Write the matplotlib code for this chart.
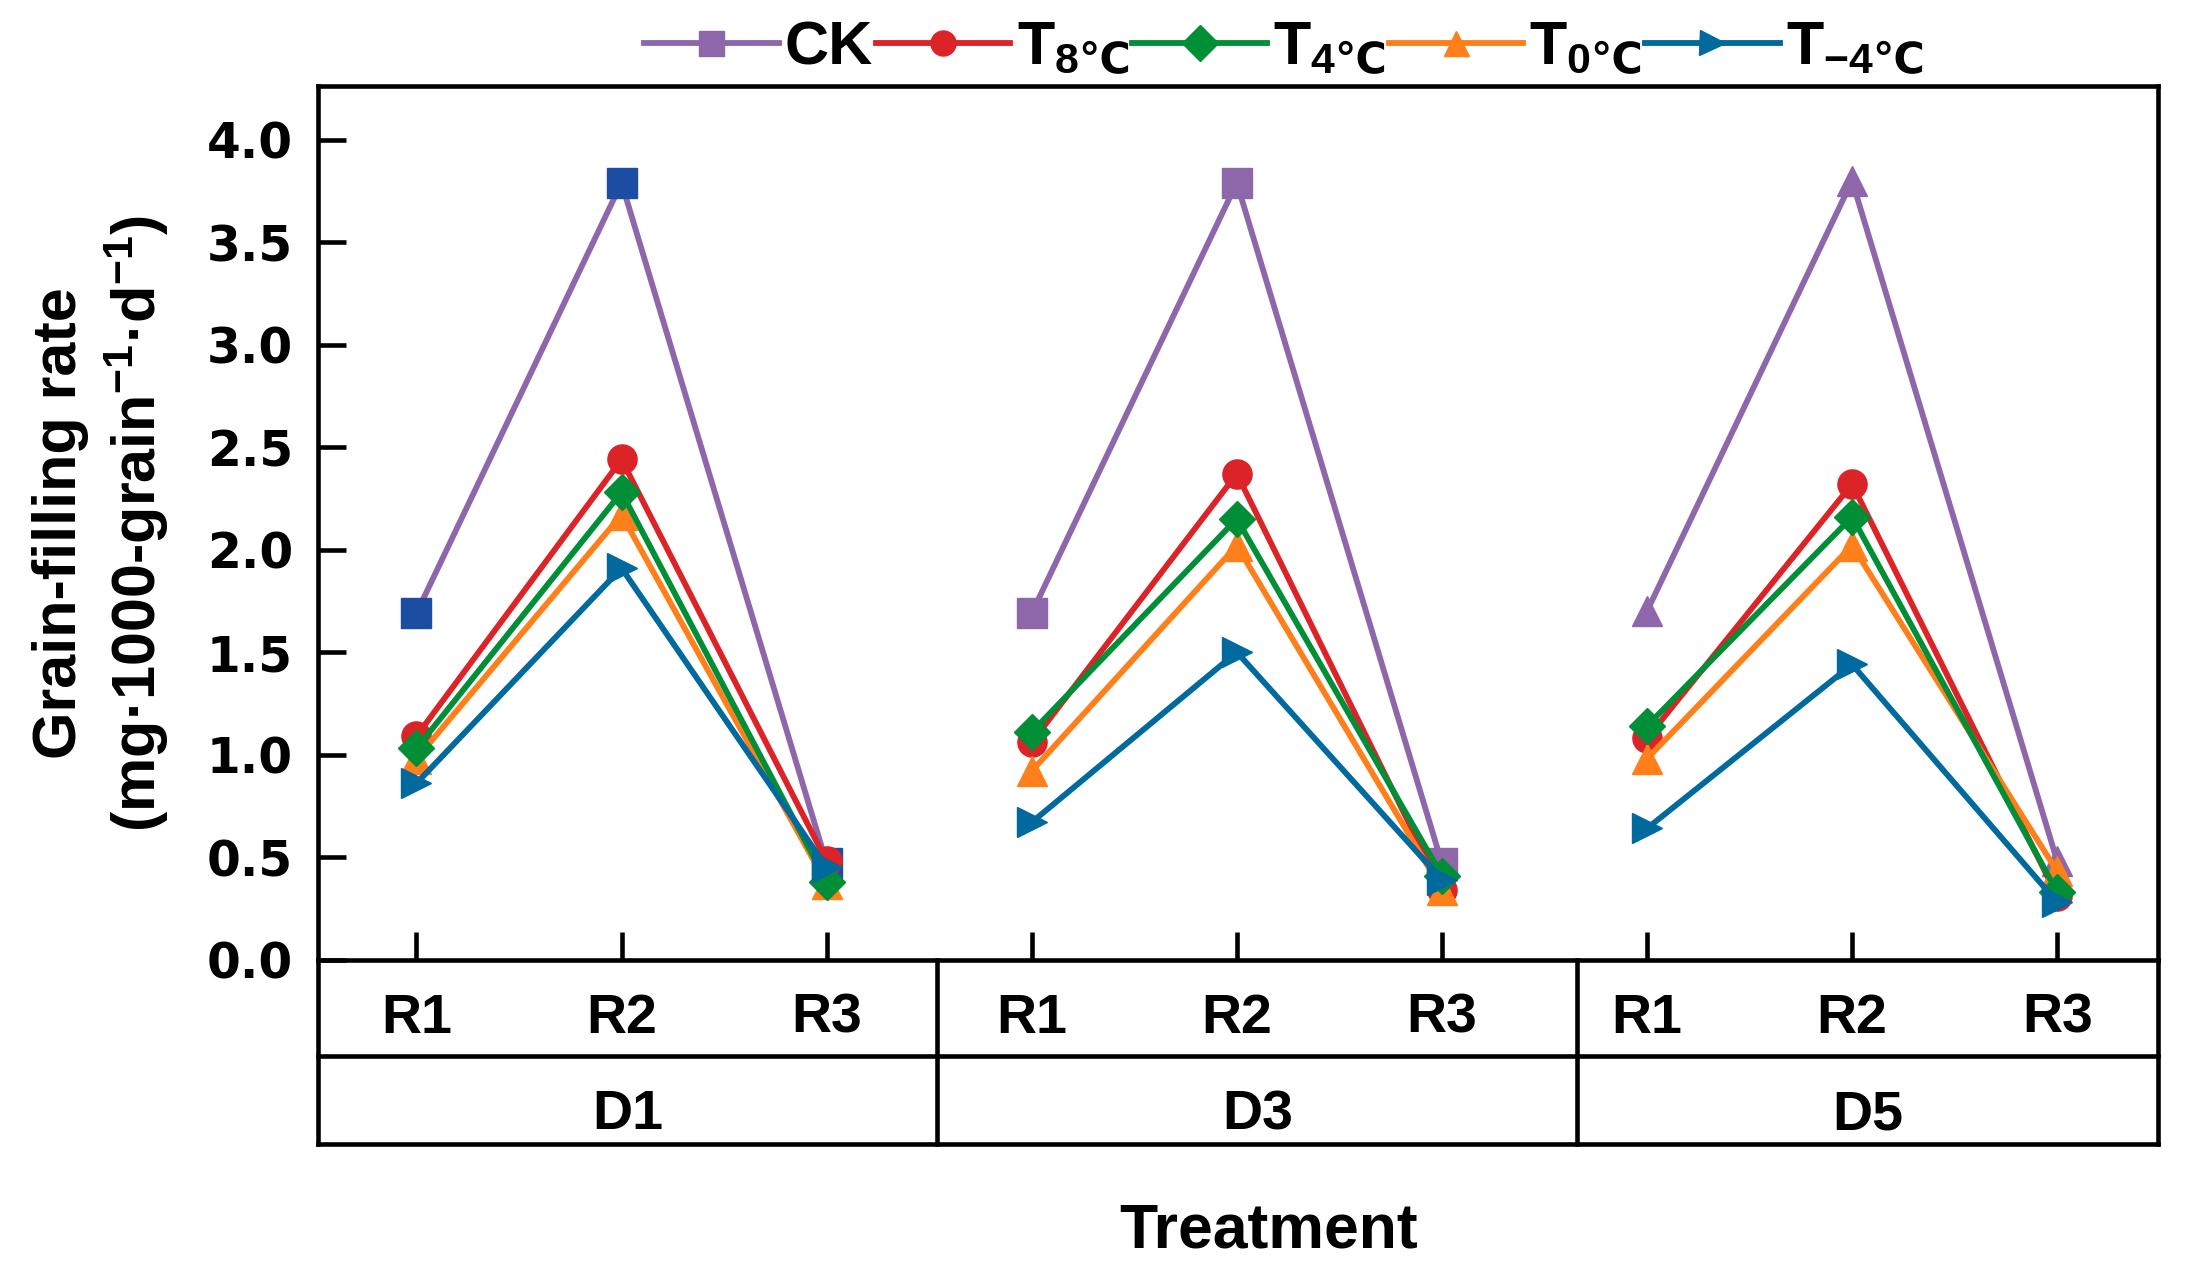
import matplotlib
matplotlib.use('Agg')
import matplotlib.pyplot as plt
from matplotlib.lines import Line2D

plt.rcParams['font.family'] = ['Liberation Sans', 'DejaVu Sans']
plt.rcParams['font.weight'] = 'bold'
plt.rcParams['mathtext.fontset'] = 'custom'
plt.rcParams['mathtext.bf'] = 'Liberation Sans:bold'
plt.rcParams['mathtext.rm'] = 'Noto Sans CJK SC'
plt.rcParams['mathtext.it'] = 'Liberation Sans:bold'

groups = ['D1', 'D3', 'D5']
stages = ['R1', 'R2', 'R3']
series_names = ['CK', 'T8', 'T4', 'T0', 'T-4']
legend_labels = ['CK', r'T$_{\mathbf{8}\mathrm{℃}}$', r'T$_{\mathbf{4}\mathrm{℃}}$',
                 r'T$_{\mathbf{0}\mathrm{℃}}$', r'T$_{\mathbf{-4}\mathrm{℃}}$']

ck = [1.69, 3.79, 0.47, 1.69, 3.79, 0.47, 1.70, 3.80, 0.48]
t8 = [1.09, 2.44, 0.48, 1.06, 2.37, 0.34, 1.08, 2.32, 0.31]
t4 = [1.03, 2.28, 0.38, 1.11, 2.15, 0.41, 1.14, 2.16, 0.33]
t0 = [0.98, 2.17, 0.37, 0.92, 2.02, 0.34, 0.98, 2.02, 0.43]
tm4 = [0.86, 1.91, 0.45, 0.67, 1.50, 0.39, 0.64, 1.44, 0.28]

yticks = [0.0, 0.5, 1.0, 1.5, 2.0, 2.5, 3.0, 3.5, 4.0]

colors = {'CK': '#8e67ab', 'T8': '#dc2327', 'T4': '#008f36',
          'T0': '#ff7f1b', 'T-4': '#00699d'}
markers = {'CK': 's', 'T8': 'o', 'T4': 'D', 'T0': '^', 'T-4': '>'}
# CK markers differ by group in the original figure
ck_markers = ['s', 's', '^']
ck_marker_colors = ['#1b4ea2', '#8e67ab', '#8e67ab']
zorders = {'CK': 2, 'T8': 3, 'T0': 4, 'T4': 5, 'T-4': 6}


def plot_series(ax, name, values):
    """draw one series, each group as its own line"""
    for g in range(len(groups)):
        xs = [3 * g + i for i in range(3)]
        ys = values[3 * g:3 * g + 3]
        marker = markers[name]
        mcolor = colors[name]
        size = 21 if name != 'T4' else 18
        if name == 'CK':
            marker = ck_markers[g]
            mcolor = ck_marker_colors[g]
        ax.plot(xs, ys, color=colors[name], lw=4.2, marker=marker,
                markersize=size, markerfacecolor=mcolor,
                markeredgecolor=mcolor, zorder=zorders[name], clip_on=False)


def draw_table(ax):
    """category boxes under the x axis"""
    xt = ax.get_xaxis_transform()
    kw = dict(color='black', lw=3.3, clip_on=False)
    ax.plot([0, 1], [-0.110, -0.110], transform=ax.transAxes, **kw)
    ax.plot([0, 1], [-0.211, -0.211], transform=ax.transAxes, **kw)
    ax.plot([0, 0], [0, -0.211], transform=ax.transAxes, **kw)
    ax.plot([1, 1], [0, -0.211], transform=ax.transAxes, **kw)
    seps = [2.54, 5.66]
    for s in seps:
        ax.plot([s, s], [0, -0.211], transform=xt, **kw)
    for g in range(len(groups)):
        for i, st in enumerate(stages):
            ax.text(3 * g + i, -0.068, st, transform=xt, ha='center',
                    va='center', fontsize=40, fontweight='bold')
    edges = [-0.48] + seps + [8.49]
    for g, name in enumerate(groups):
        mid = (edges[g] + edges[g + 1]) / 2
        ax.text(mid, -0.178, name, transform=xt, ha='center', va='center',
                fontsize=40, fontweight='bold')


def plotting():
    fig = plt.figure(figsize=(21.87, 12.86), dpi=100)
    ax = fig.add_axes([0.1454, 0.2538, 0.8412, 0.679])
    all_values = [ck, t8, t4, t0, tm4]
    for name, vals in zip(series_names, all_values):
        plot_series(ax, name, vals)

    ax.set_xlim(-0.48, 8.49)
    ax.set_ylim(0, 4.26)
    ax.set_yticks(yticks)
    ax.set_yticklabels(['%.1f' % v for v in yticks], fontsize=35,
                       fontweight='bold', family='DejaVu Sans')
    ax.set_xticks(range(9))
    ax.set_xticklabels([])
    ax.tick_params(axis='both', direction='in', length=20, width=3.3)
    ax.tick_params(axis='y', pad=18)
    for sp in ax.spines.values():
        sp.set_linewidth(3.3)

    ax.set_ylabel('Grain-filling rate\n'
                  r'(mg·1000-grain$^{\mathbf{-1}}$·d$^{\mathbf{-1}}$)',
                  fontsize=44, fontweight='bold', linespacing=1.25)
    ax.yaxis.set_label_coords(-0.08, 0.5)
    draw_table(ax)
    fig.text(0.58, 0.043, 'Treatment', ha='center', va='center',
             fontsize=45, fontweight='bold')

    handles = []
    for name in series_names:
        handles.append(Line2D([], [], color=colors[name], lw=4.2,
                              marker=markers[name], markersize=18,
                              markerfacecolor=colors[name],
                              markeredgecolor=colors[name]))
    fig.legend(handles, legend_labels, loc='center', ncol=5,
               bbox_to_anchor=(0.587, 0.962), frameon=False,
               prop={'size': 44, 'weight': 'bold'}, handlelength=2.2,
               handletextpad=0.1, columnspacing=0.05)
    fig.savefig('out.png', dpi=100)


if __name__ == '__main__':
    plotting()
